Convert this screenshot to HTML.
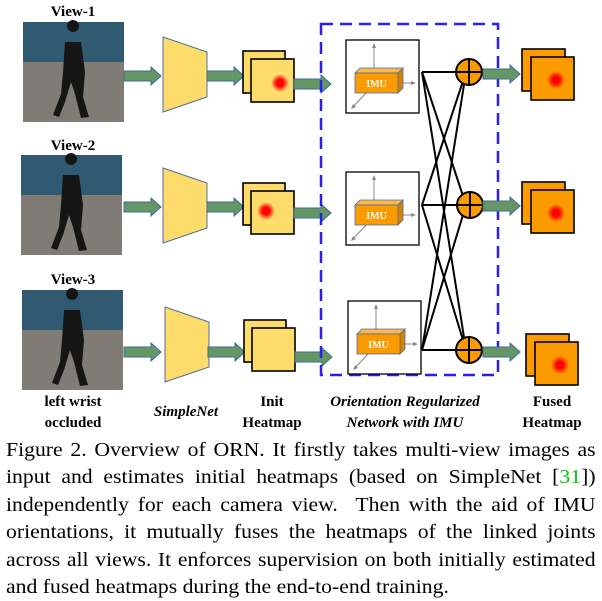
<!DOCTYPE html>
<html><head><meta charset="utf-8"><style>
body{margin:0;background:#fff;width:602px;height:601px;overflow:hidden;position:relative}
svg{position:absolute;left:0;top:0}
.cap{position:absolute;left:6px;top:437px;width:551px;transform:scaleX(1.07);transform-origin:0 0;font-family:"Liberation Serif",serif;font-size:20.3px;line-height:27.4px;color:#000}
.cap div{text-align:justify;text-align-last:justify;white-space:nowrap;overflow:visible}
.cap div.l{text-align-last:left}
</style></head><body>
<svg width="602" height="430" xmlns="http://www.w3.org/2000/svg" font-family="Liberation Serif, serif">
<defs>
<radialGradient id="dot"><stop offset="0.4" stop-color="#f00"/><stop offset="1" stop-color="#f00" stop-opacity="0"/></radialGradient>
<g id="arrow"><polygon points="0,-5 27,-5 27,-9 37,0 27,9 27,5 0,5" fill="#649763" stroke="#3e6a9a" stroke-width="1"/></g>
<g id="photo">
<rect width="101" height="100" fill="#807b74"/>
<rect width="101" height="40" fill="#2f5a72"/>
<path d="M50,10 a6,6 0 1 1 0.1,0 Z M42,20 L58,20 L62,50 L60,75 L66,95 L58,96 L52,72 L48,60 L42,80 L36,95 L30,93 L38,72 L40,50 Z" fill="#151515"/>
</g>
<g id="trap"><polygon points="0,0 44,15 44,60 0,75" fill="#fedc6c" stroke="#4d6fa0" stroke-width="1"/></g>
<g id="heat"><rect x="0" y="0" width="42" height="42" fill="#fedc6c" stroke="#000" stroke-width="1.6"/><rect x="8" y="8" width="43" height="43" fill="#fedc6c" stroke="#000" stroke-width="1.6"/></g>
<g id="fused"><rect x="0" y="0" width="43" height="42" fill="#fb9b00" stroke="#000" stroke-width="1.6"/><rect x="9" y="8" width="43" height="43" fill="#fb9b00" stroke="#000" stroke-width="1.6"/><circle cx="34" cy="31" r="9" fill="url(#dot)"/></g>
<g id="imu">
<rect x="0" y="0" width="73" height="73" fill="#fff" stroke="#000" stroke-width="1.3"/>
<line x1="28" y1="30" x2="28" y2="5" stroke="#888"/><polygon points="28,3 26,8 30,8" fill="#888"/>
<line x1="50" y1="43" x2="68" y2="43" stroke="#888"/><polygon points="70,43 65,41 65,45" fill="#888"/>
<line x1="20" y1="53" x2="6" y2="68" stroke="#888"/><polygon points="5,69 7,64 10,67" fill="#888"/>
<polygon points="9,33 14,28 57,28 52,33" fill="#fcb84a" stroke="#4d6fa0" stroke-width="0.8"/>
<polygon points="52,33 57,28 57,48 52,53" fill="#d98200" stroke="#4d6fa0" stroke-width="0.8"/>
<rect x="9" y="33" width="43" height="20" fill="#fb9b00" stroke="#4d6fa0" stroke-width="0.8"/>
<text x="30.5" y="47" font-size="10" font-weight="bold" fill="#fff" text-anchor="middle">IMU</text>
</g>
<g id="plus"><circle r="13" fill="#fb9b00" stroke="#000" stroke-width="2"/><line x1="-13" y1="0" x2="13" y2="0" stroke="#000" stroke-width="2"/><line x1="0" y1="-13" x2="0" y2="13" stroke="#000" stroke-width="2"/></g>
</defs>
<g font-weight="bold" font-size="15" text-anchor="middle">
<text x="73" y="16">View-1</text><text x="73" y="150">View-2</text><text x="73" y="284">View-3</text>
</g>
<use href="#photo" x="23" y="22"/><use href="#photo" x="21" y="155"/><use href="#photo" x="22" y="290"/>
<use href="#arrow" x="124" y="76"/><use href="#arrow" x="124" y="207"/><use href="#arrow" x="124" y="352"/>
<use href="#trap" x="163" y="37"/><use href="#trap" x="163" y="168"/><use href="#trap" x="165" y="307"/>
<use href="#arrow" x="207" y="76"/><use href="#arrow" x="207" y="207"/><use href="#arrow" x="208" y="352"/>
<use href="#heat" x="243" y="51"/><use href="#heat" x="243" y="183"/><use href="#heat" x="244" y="320"/>
<circle cx="280" cy="83" r="9" fill="url(#dot)"/><circle cx="266" cy="211" r="9" fill="url(#dot)"/>
<use href="#arrow" x="294" y="84"/><use href="#arrow" x="294" y="213"/><use href="#arrow" x="295" y="357"/>
<rect x="321" y="24" width="177" height="351" fill="none" stroke="#2a1ef0" stroke-width="2.5" stroke-dasharray="12,7"/>
<use href="#imu" x="346" y="40"/><use href="#imu" x="346" y="172"/><use href="#imu" x="348" y="301"/>
<g stroke="#000" stroke-width="2" fill="none">
<line x1="422" y1="72" x2="469" y2="72"/><line x1="422" y1="72" x2="466" y2="205"/><line x1="422" y1="72" x2="466" y2="350"/>
<line x1="422" y1="205" x2="469" y2="205"/><line x1="422" y1="205" x2="466" y2="72"/><line x1="422" y1="205" x2="466" y2="350"/>
<line x1="422" y1="350" x2="469" y2="350"/><line x1="422" y1="350" x2="466" y2="72"/><line x1="422" y1="350" x2="466" y2="205"/>
</g>
<use href="#plus" x="469" y="72"/><use href="#plus" x="470" y="205"/><use href="#plus" x="469" y="350"/>
<use href="#arrow" x="483" y="74"/><use href="#arrow" x="483" y="206"/><use href="#arrow" x="483" y="352"/>
<use href="#fused" x="522" y="49"/><use href="#fused" x="522" y="182"/><use href="#fused" x="526" y="334"/>
<g font-weight="bold" font-size="15" text-anchor="middle">
<text x="73" y="406">left wrist</text><text x="73" y="427">occluded</text>
<text x="186" y="416" font-style="italic">SimpleNet</text>
<text x="272" y="406">Init</text><text x="272" y="427">Heatmap</text>
<text x="405" y="406" font-style="italic">Orientation Regularized</text><text x="405" y="427" font-style="italic">Network with IMU</text>
<text x="552" y="406">Fused</text><text x="552" y="427">Heatmap</text>
</g>
</svg>
<div class="cap">
<div>Figure 2. Overview of ORN. It firstly takes multi-view images as</div>
<div>input and estimates initial heatmaps (based on SimpleNet [<span style="color:#0c0">31</span>])</div>
<div>independently for each camera view. &nbsp;Then with the aid of IMU</div>
<div>orientations, it mutually fuses the heatmaps of the linked joints</div>
<div>across all views. It enforces supervision on both initially estimated</div>
<div class="l">and fused heatmaps during the end-to-end training.</div>
</div>
</body></html>
